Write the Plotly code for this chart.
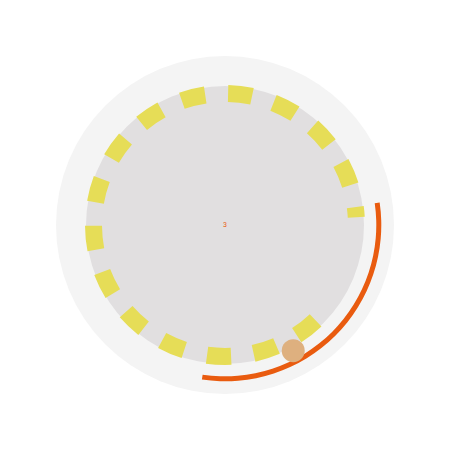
import plotly.graph_objects as go

# Dial values (angles in degrees, clockwise from the top)
dash_theta = [6.6, 26.9, 47.0, 67.1, 84.4, 141.7, 162.2, 182.6, 203.3,
              223.5, 243.8, 264.4, 285.2, 305.6, 325.9, 346.1]
dash_span = [10.5, 10.5, 10.5, 10.5, 4.4, 10.5, 10.5, 10.5, 10.5,
             10.5, 10.5, 10.5, 10.5, 10.5, 10.5, 10.5]
progress_start = [81.7]
progress_end = [188.5]
knob_theta = [151.5]
center_label = ["3"]

OUTER = "#f4f4f4"
INNER = "#e1dfe0"
YELLOW = "#e6dd57"
ORANGE = "#e95b0f"
TAN = "#deb07f"

fig = go.Figure()

# inner disc
fig.add_trace(go.Barpolar(r=[139], theta=[0], width=[360], base=0,
                          marker=dict(color=INNER, line=dict(width=0)),
                          hoverinfo="skip"))

# yellow dashes
fig.add_trace(go.Barpolar(r=[17] * len(dash_theta), theta=dash_theta,
                          width=dash_span, base=123,
                          marker=dict(color=YELLOW, line=dict(width=0)),
                          hoverinfo="skip"))

# orange progress arc
mid = [(a + b) / 2 for a, b in zip(progress_start, progress_end)]
span = [b - a for a, b in zip(progress_start, progress_end)]
fig.add_trace(go.Barpolar(r=[5], theta=mid, width=span, base=151.3,
                          marker=dict(color=ORANGE, line=dict(width=0)),
                          hoverinfo="skip"))

# knob
fig.add_trace(go.Scatterpolar(r=[143], theta=knob_theta, mode="markers",
                              marker=dict(size=23, color=TAN, line=dict(width=0)),
                              hoverinfo="skip"))

# center number
fig.add_trace(go.Scatterpolar(r=[0], theta=[0], mode="text", text=center_label,
                              textfont=dict(size=7, color=ORANGE, family="Roboto"),
                              hoverinfo="skip"))

# page body adds 8px, so the margins are shifted to keep the dial centred
fig.update_layout(
    width=450, height=450,
    margin=dict(l=48, r=64, t=48, b=64),
    paper_bgcolor="white",
    showlegend=False,
    polar=dict(
        bgcolor=OUTER,
        barmode="overlay",
        bargap=0,
        hole=0,
        radialaxis=dict(range=[0, 169], visible=False, showgrid=False),
        angularaxis=dict(rotation=90, direction="clockwise", visible=False,
                         showgrid=False, showline=False),
    ),
)

fig.write_html("out.html")
